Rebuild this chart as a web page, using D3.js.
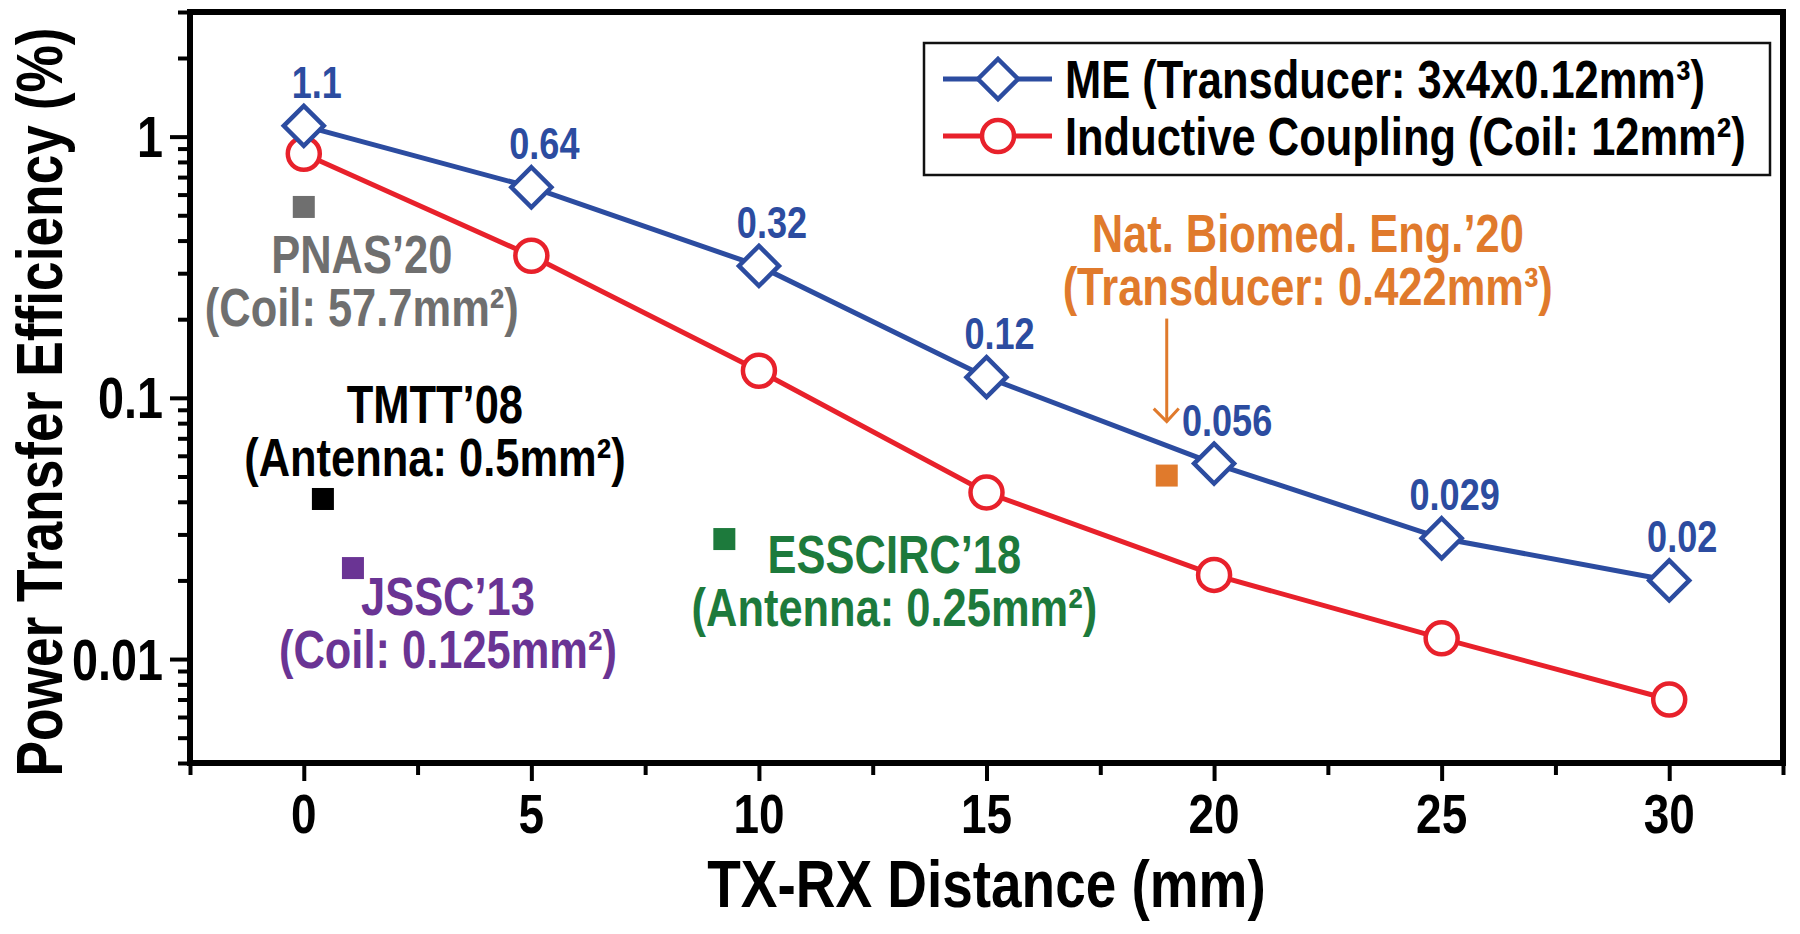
<!DOCTYPE html>
<html><head><meta charset="utf-8">
<script src="https://cdn.jsdelivr.net/npm/d3@7"></script>
<style>html,body{margin:0;padding:0;background:#fff;overflow:hidden}</style>
</head><body><svg id="chart" width="1800" height="934"></svg>
<script>
// ---------------- data ----------------
const distances = [0, 5, 10, 15, 20, 25, 30];
const meValues = [1.1, 0.64, 0.32, 0.12, 0.056, 0.029, 0.02];
const icValues = [0.86, 0.35, 0.127, 0.0434, 0.021, 0.012, 0.0070];
const meLabels = ["1.1", "0.64", "0.32", "0.12", "0.056", "0.029", "0.02"];
const seriesNames = ["ME (Transducer: 3x4x0.12mm³)", "Inductive Coupling (Coil: 12mm²)"];
const refNames = ["PNAS’20", "TMTT’08", "JSSC’13", "ESSCIRC’18", "Nat. Biomed. Eng.’20"];
const refSubs = ["(Coil: 57.7mm²)", "(Antenna: 0.5mm²)", "(Coil: 0.125mm²)", "(Antenna: 0.25mm²)", "(Transducer: 0.422mm³)"];
const refX = [0, 0.42, 1.08, 9.24, 18.96];
const refY = [0.538, 0.041, 0.0223, 0.0288, 0.0504];
const xTicks = [0, 5, 10, 15, 20, 25, 30];
const xTickLabels = ["0", "5", "10", "15", "20", "25", "30"];
const xMinorTicks = [-2.5, 2.5, 7.5, 12.5, 17.5, 22.5, 27.5, 32.5];
const yTicks = [0.01, 0.1, 1];
const yTickLabels = ["0.01", "0.1", "1"];
const xTitle = "TX-RX Distance (mm)";
const yTitle = "Power Transfer Efficiency (%)";

// ---------------- styles / layout ----------------
const BLUE = "#2c4ca0", RED = "#e8212b";
const refColors = ["#6f6f6f", "#000000", "#6a3494", "#1d7a3c", "#e07a2c"];
const refLabelOffset = [[58, 66], [112, -76], [95, 47], [170, 34], [141, -224]];
const LINE_GAP = 53;

const svg = d3.select("#chart");
svg.append("rect").attr("width", 1800).attr("height", 934).attr("fill", "#fff");

function measure(fam) {
  const t = svg.append("text").attr("font-family", fam).attr("font-weight", "bold")
    .attr("font-size", 100).text("Inductive Coupling 0.125");
  const w = t.node().getComputedTextLength(); t.remove(); return w;
}
const narrow = measure('"Liberation Sans Narrow"') / measure('"Liberation Sans", Arial') < 0.9;
const FAM = narrow ? '"Liberation Sans Narrow", "Arial Narrow", sans-serif' : '"Liberation Sans", Arial, sans-serif';
const SX = narrow ? 1 : 0.82;

function txt(g, xp, yp, str, size, color, anchor = "middle", rot = 0, dy = null) {
  const t = g.append("text")
    .attr("transform", `translate(${xp},${yp})${rot ? ` rotate(${rot})` : ""} scale(${SX},1)`)
    .attr("font-family", FAM).attr("font-weight", "bold").attr("font-size", size)
    .attr("fill", color).attr("text-anchor", anchor).text(str);
  if (dy) t.attr("dy", dy);
  return t;
}
function txt2(g, xp, yp, l1, l2, size, color) {
  const t = g.append("text")
    .attr("transform", `translate(${xp},${yp}) scale(${SX},1)`)
    .attr("font-family", FAM).attr("font-weight", "bold").attr("font-size", size)
    .attr("fill", color).attr("text-anchor", "middle");
  t.append("tspan").attr("x", 0).attr("y", 0).text(l1);
  t.append("tspan").attr("x", 0).attr("y", LINE_GAP).text(l2);
  return t;
}

const L = 190, R = 1783, T = 12, B = 763;
const x = d3.scaleLinear().domain([-2.5, 32.5]).range([L, R]);
const y = d3.scaleLog().domain([0.004, 3]).range([B, T]);

// ---------------- axes ----------------
const isMajor = v => Math.abs(Math.log10(v) - Math.round(Math.log10(v))) < 1e-6;
const yMinor = y.ticks().filter(v => !isMajor(v));

function styleAxis(g) {
  g.select(".domain").remove();
  g.selectAll("line").attr("stroke", "#000").attr("stroke-width", 4);
}
svg.append("g").attr("transform", `translate(0,${B})`)
  .call(d3.axisBottom(x).tickValues(xTicks).tickSize(18).tickFormat("")).call(styleAxis);
svg.append("g").attr("transform", `translate(0,${B})`)
  .call(d3.axisBottom(x).tickValues(xMinorTicks).tickSize(12).tickFormat("")).call(styleAxis);
svg.append("g").attr("transform", `translate(${L},0)`)
  .call(d3.axisLeft(y).tickValues(yTicks).tickSize(20).tickFormat("")).call(styleAxis);
svg.append("g").attr("transform", `translate(${L},0)`)
  .call(d3.axisLeft(y).tickValues(yMinor).tickSize(12).tickFormat("")).call(styleAxis);

svg.append("rect").attr("x", L).attr("y", T).attr("width", R - L).attr("height", B - T)
  .attr("fill", "none").attr("stroke", "#000").attr("stroke-width", 6);

const lab = svg.append("g");
xTicks.forEach((v, i) => txt(lab, x(v), B + 70, xTickLabels[i], 56, "#000"));
yTicks.forEach((v, i) => txt(lab, L - 27, y(v), yTickLabels[i], 57, "#000", "end", 0, "0.36em"));
txt(lab, (L + R) / 2, 907, xTitle, 67, "#000");
txt(lab, 62, 402, yTitle, 65, "#000", "middle", -90);

// ---------------- reference points ----------------
const refs = svg.append("g");
refX.forEach((rx, i) => {
  const px = x(rx), py = y(refY[i]);
  refs.append("rect").attr("x", px - 11).attr("y", py - 11).attr("width", 22).attr("height", 22)
    .attr("fill", refColors[i]);
  const [dx, dy] = refLabelOffset[i];
  txt2(refs, px + dx, py + dy, refNames[i], refSubs[i], 53, refColors[i]);
});
// arrow for Nat. Biomed. Eng.
{
  const px = x(refX[4]), py = y(refY[4]);
  const tip = py - 54;
  refs.append("line").attr("x1", px).attr("x2", px).attr("y1", py - 157).attr("y2", tip)
    .attr("stroke", refColors[4]).attr("stroke-width", 3);
  refs.append("path").attr("d", `M${px - 13},${tip - 13} L${px},${tip} L${px + 12},${tip - 13}`)
    .attr("fill", "none").attr("stroke", refColors[4]).attr("stroke-width", 3);
}

// ---------------- series ----------------
const diamond = "M0,-20 L20,0 L0,20 L-20,0 Z";
const line = d3.line().x(d => x(d[0])).y(d => y(d[1]));
const icData = distances.map((d, i) => [d, icValues[i]]);
const meData = distances.map((d, i) => [d, meValues[i]]);

const gs = svg.append("g");
gs.append("path").attr("d", line(icData)).attr("fill", "none").attr("stroke", RED).attr("stroke-width", 5);
gs.selectAll(".ic").data(icData).enter().append("circle")
  .attr("cx", d => x(d[0])).attr("cy", d => y(d[1])).attr("r", 16)
  .attr("fill", "#fff").attr("stroke", RED).attr("stroke-width", 4.5);
gs.append("path").attr("d", line(meData)).attr("fill", "none").attr("stroke", BLUE).attr("stroke-width", 5);
gs.selectAll(".me").data(meData).enter().append("path")
  .attr("d", diamond).attr("transform", d => `translate(${x(d[0])},${y(d[1])})`)
  .attr("fill", "#fff").attr("stroke", BLUE).attr("stroke-width", 4.5);
meData.forEach((d, i) => txt(gs, x(d[0]) + 13, y(d[1]) - 28, meLabels[i], 44, BLUE));

// ---------------- legend ----------------
const lg = svg.append("g");
lg.append("rect").attr("x", 924).attr("y", 43).attr("width", 846).attr("height", 132)
  .attr("fill", "#fff").attr("stroke", "#111").attr("stroke-width", 2.5);
const rows = [{c: BLUE, y: 79, m: "d"}, {c: RED, y: 136, m: "c"}];
rows.forEach((r, i) => {
  lg.append("line").attr("x1", 943).attr("x2", 1052).attr("y1", r.y).attr("y2", r.y)
    .attr("stroke", r.c).attr("stroke-width", 5);
  if (r.m === "d") lg.append("path").attr("d", diamond).attr("transform", `translate(998,${r.y})`)
    .attr("fill", "#fff").attr("stroke", r.c).attr("stroke-width", 4.5);
  else lg.append("circle").attr("cx", 998).attr("cy", r.y).attr("r", 16)
    .attr("fill", "#fff").attr("stroke", r.c).attr("stroke-width", 4.5);
  txt(lg, 1065, r.y, seriesNames[i], 53, "#000", "start", 0, "0.36em");
});
</script>
</body></html>
